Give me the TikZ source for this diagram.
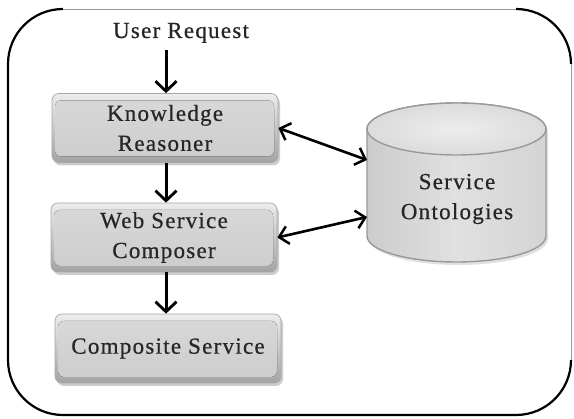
\documentclass[tikz,border=0pt]{standalone}
\usepackage{fontspec}
\setmainfont{Liberation Serif}[LetterSpace=5.5,FakeBold=0.6]
\usetikzlibrary{arrows.meta,shadows,calc}

\begin{document}
\begin{tikzpicture}[x=1pt,y=-1pt,
  txt/.style={font=\fontsize{23}{30}\selectfont, text=black!85, align=center},
  box/.style={txt, draw=gray!70, line width=0.7pt, rounded corners=7pt,
    minimum width=226pt, minimum height=69pt, inner sep=0pt,
    top color=gray!14, bottom color=gray!72,
    path picture={\fill[top color=gray!30, bottom color=gray!40, rounded corners=6pt]
      ([shift={(3pt,-7pt)}]path picture bounding box.north west) rectangle
      ([shift={(-4pt,6pt)}]path picture bounding box.south east);},
    drop shadow={shadow xshift=2pt, shadow yshift=-3pt, opacity=0.5, fill=gray!80}},
  flow/.style={line width=3pt, -{Straight Barb[length=10pt,width=21pt,line width=2.8pt]}},
  link/.style={line width=2.6pt,
    {Straight Barb[length=9pt,width=18pt,line width=2.5pt]}-{Straight Barb[length=9pt,width=18pt,line width=2.5pt]}},
  framethick/.style={line width=2.2pt, draw=black},
  framethin/.style={line width=0.9pt, draw=gray!80},
  cylrim/.style={draw=gray!80, line width=1.4pt}
]
\useasboundingbox (0,0) rectangle (574,419);

% outer rounded frame: heavy corners, left and bottom sides; light top and right sides
\draw[framethick] (8,64) -- (8,360) .. controls (8,390.4) and (32.6,415) .. (63,415)
  -- (516,415) .. controls (546.4,415) and (571,390.4) .. (571,360);
\draw[framethick] (8,64) .. controls (8,33.6) and (32.6,9) .. (63,9);
\draw[framethick] (516,9) .. controls (546.4,9) and (571,33.6) .. (571,64);
\draw[framethin] (63,9) -- (516,9);
\draw[framethin] (571,64) -- (571,360);

% service ontology store (cylinder)
\path[cylrim, left color=gray!40, right color=gray!34, middle color=gray!24,
      drop shadow={shadow xshift=2pt, shadow yshift=-3pt, opacity=0.35, fill=gray!70}]
  (367,129) -- (367,236) arc[start angle=180, end angle=0, x radius=89.5, y radius=26]
  -- (546,129) arc[start angle=0, end angle=-180, x radius=89.5, y radius=26] -- cycle;
\draw[cylrim, inner color=gray!14, outer color=gray!28] (456.5,129) ellipse [x radius=89.5, y radius=26];
\node[txt] (db) at (457,199) {Service\\Ontologies};
\coordinate (dbtop) at (367,160);
\coordinate (dblow) at (367,217);

% processing pipeline
\node[txt, anchor=base] (ur) at (181,38) {User Request};
\node[box] (kr)  at (165,128)   {Knowledge\\Reasoner};
\node[box] (wsc) at (164,237.5) {Web Service\\Composer};
\node[box] (cs)  at (168,348.5) {Composite Service};

\draw[flow] ($(kr.north |- ur.south)+(1,4)$) -- ($(kr.north)+(1,0)$);
\draw[flow] ($(kr.south)+(1,0)$) -- ($(kr.south |- wsc.north)+(1,0)$);
\draw[flow] ($(wsc.south)+(2,0)$) -- ($(wsc.south |- cs.north)+(2,0)$);

\draw[link] (kr.east) -- (dbtop);
\draw[link] (wsc.east) -- (dblow);
\end{tikzpicture}
\end{document}
